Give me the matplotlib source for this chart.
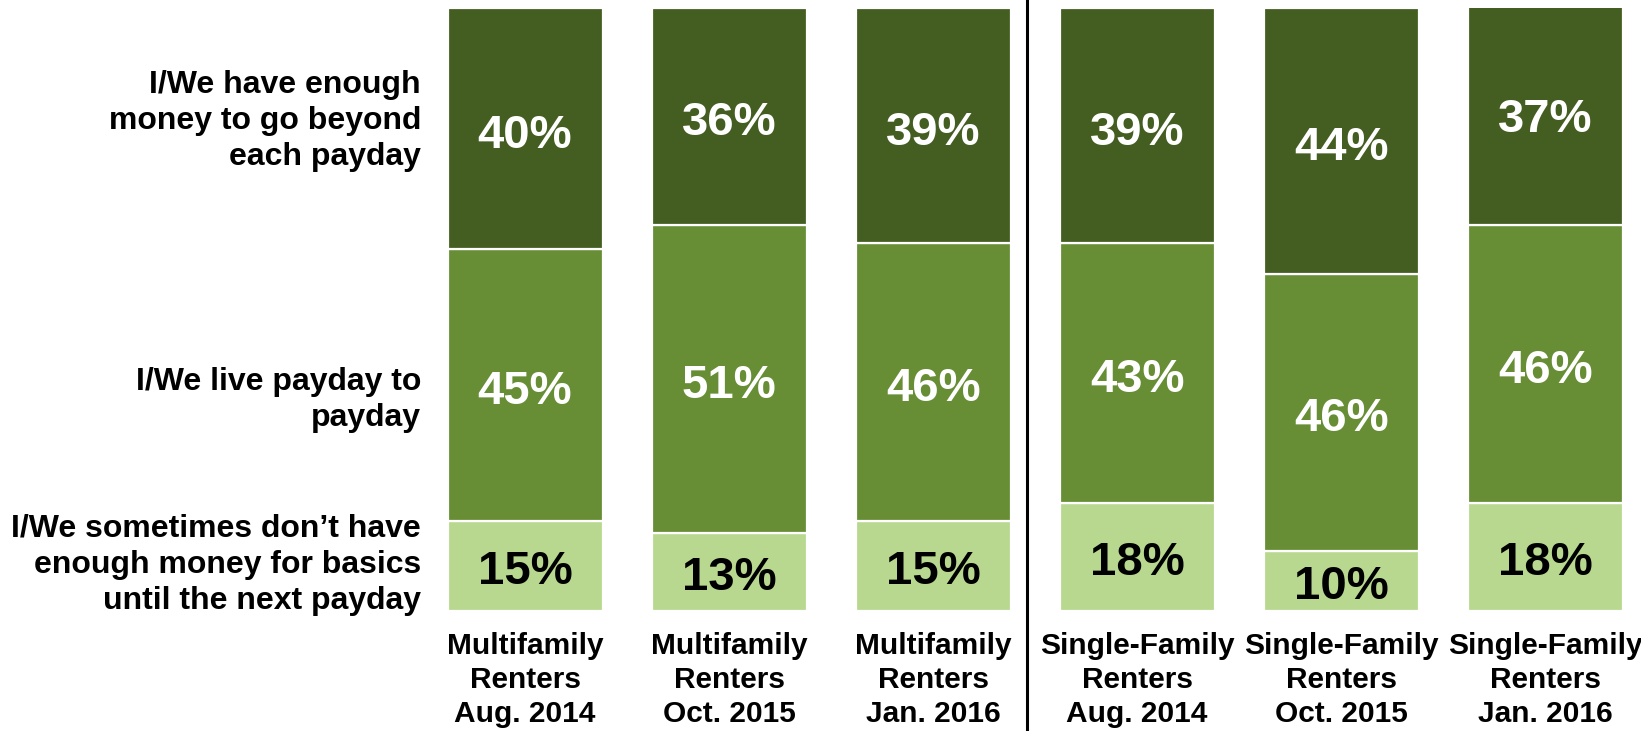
import numpy as np
import matplotlib.pyplot as plt

groups = ["Multifamily\nRenters\nAug. 2014", "Multifamily\nRenters\nOct. 2015",
          "Multifamily\nRenters\nJan. 2016", "Single-Family\nRenters\nAug. 2014",
          "Single-Family\nRenters\nOct. 2015", "Single-Family\nRenters\nJan. 2016"]
short = [15, 13, 15, 18, 10, 18]
paycheck = [45, 51, 46, 43, 46, 46]
beyond = [40, 36, 39, 39, 44, 37]

series_names = ["I/We sometimes don\u2019t have\nenough money for basics\nuntil the next payday",
                "I/We live payday to\npayday",
                "I/We have enough\nmoney to go beyond\neach payday"]
colors = ["#b8d88f", "#678e35", "#445e22"]
text_colors = ["black", "white", "white"]

plt.rcParams["font.family"] = ["Liberation Sans", "DejaVu Sans"]
plt.rcParams["font.weight"] = "bold"

fig = plt.figure(figsize=(16.41, 7.31), dpi=100)
ax = fig.add_axes([0.2578, 0.1642, 0.7422, 0.8243])

x = np.arange(len(groups))
width = 0.76
bottom = np.zeros(len(groups))
for vals, col, tc in zip([short, paycheck, beyond], colors, text_colors):
    vals = np.array(vals)
    ax.bar(x, vals, width, bottom=bottom, color=col, edgecolor="white", linewidth=1.6)
    for xi, b, v in zip(x, bottom, vals):
        ax.text(xi, b + v / 2 - 1.1, f"{v}%", ha="center", va="center",
                color=tc, fontsize=34, fontweight="bold")
    bottom += vals

ax.set_xlim(-0.5, 5.47)
ax.set_ylim(0, 100)
ax.set_xticks(x)
ax.set_xticklabels(groups, fontsize=21.5, fontweight="bold", linespacing=1.27)
ax.tick_params(axis="x", length=0, pad=15)
ax.set_yticks([])
for s in ax.spines.values():
    s.set_visible(False)

# category labels on the left
label_y = [7.7, 35.0, 81.3]
for name, ly in zip(series_names, label_y):
    ax.text(-0.51, ly, name, ha="right", va="center", fontsize=23,
            fontweight="bold", linespacing=1.26)

# divider between the two renter groups
ax.axvline(2.46, ymin=-0.2, ymax=1.02, color="black", linewidth=2.2, clip_on=False)

fig.savefig("out.png", dpi=100)
